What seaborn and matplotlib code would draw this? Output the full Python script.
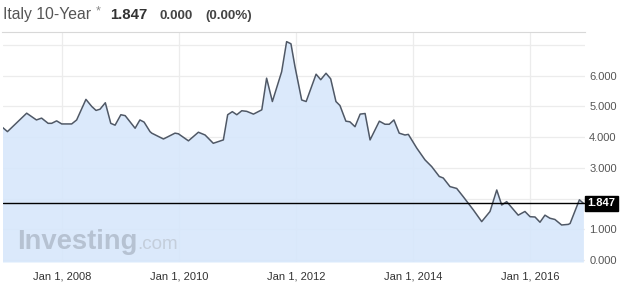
import matplotlib
matplotlib.use("Agg")
import matplotlib.pyplot as plt
import matplotlib.transforms as mtransforms
import seaborn as sns
import pandas as pd

# ---- data ----
dates = [
    "2006-12-20", "2007-01-25", "2007-05-25", "2007-07-25", "2007-08-26", "2007-10-06",
    "2007-10-28", "2007-11-28", "2007-12-30", "2008-03-01", "2008-04-01", "2008-05-29",
    "2008-07-04", "2008-07-31", "2008-08-25", "2008-09-27", "2008-10-31", "2008-11-27",
    "2009-01-02", "2009-01-29", "2009-04-01", "2009-05-01", "2009-05-27", "2009-07-03",
    "2009-07-14", "2009-09-25", "2009-12-06", "2009-12-27", "2010-02-28", "2010-05-01",
    "2010-06-12", "2010-08-02", "2010-10-04", "2010-10-31", "2010-11-29", "2010-12-27",
    "2011-01-27", "2011-02-27", "2011-04-10", "2011-06-01", "2011-07-01", "2011-08-06",
    "2011-10-03", "2011-11-03", "2011-11-30", "2011-12-25", "2012-02-05", "2012-03-04",
    "2012-05-05", "2012-06-03", "2012-07-06", "2012-08-04", "2012-09-06", "2012-10-01",
    "2012-11-07", "2012-12-02", "2013-01-03", "2013-02-04", "2013-03-07", "2013-04-07",
    "2013-06-04", "2013-07-09", "2013-08-05", "2013-09-03", "2013-10-06", "2013-11-11",
    "2013-12-02", "2014-01-24", "2014-03-16", "2014-04-27", "2014-06-13", "2014-07-08",
    "2014-08-19", "2014-09-30", "2014-11-10", "2015-01-12", "2015-03-05", "2015-04-26",
    "2015-06-07", "2015-07-08", "2015-08-08", "2015-10-19", "2015-11-30", "2016-01-01",
    "2016-02-01", "2016-03-03", "2016-04-03", "2016-05-04", "2016-06-04", "2016-07-16",
    "2016-08-27", "2016-09-07", "2016-11-04", "2016-11-29",
]
yields = [
    4.34, 4.18, 4.78, 4.56, 4.62, 4.45,
    4.45, 4.53, 4.43, 4.43, 4.56, 5.23,
    5.00, 4.87, 4.91, 5.12, 4.45, 4.39,
    4.73, 4.70, 4.29, 4.56, 4.49, 4.18,
    4.13, 3.94, 4.13, 4.11, 3.88, 4.16,
    4.07, 3.80, 3.91, 4.73, 4.83, 4.73,
    4.86, 4.84, 4.75, 4.89, 5.92, 5.16,
    6.13, 7.11, 7.04, 6.30, 5.21, 5.16,
    6.05, 5.87, 6.08, 5.90, 5.16, 5.03,
    4.52, 4.50, 4.34, 4.75, 4.77, 3.91,
    4.52, 4.42, 4.42, 4.56, 4.13, 4.07,
    4.09, 3.64, 3.26, 3.04, 2.72, 2.67,
    2.39, 2.33, 2.06, 1.63, 1.25, 1.58,
    2.28, 1.79, 1.90, 1.46, 1.58, 1.41,
    1.40, 1.23, 1.46, 1.36, 1.32, 1.14,
    1.16, 1.19, 1.96, 1.847,
]
last_value = 1.847
title_name = "Italy 10-Year"
title_price = "1.847"
title_change = "0.000"
title_pct = "(0.00%)"
y_ticks = [0, 1, 3, 4, 5, 6]          # 2.000 is hidden behind the last-value box
y_grid = [0, 1, 2, 3, 4, 5, 6, 7]
x_tick_years = [2008, 2010, 2012, 2014, 2016]

df = pd.DataFrame({"date": pd.to_datetime(dates), "yield": yields})

sns.set_style("white")
plt.rcParams["font.family"] = ["Liberation Sans", "DejaVu Sans"]

W, H = 628, 296
fig = plt.figure(figsize=(W / 100, H / 100), dpi=100)
left, right, top, bottom = 2.5, 585, 31.5, 262
ax = fig.add_axes([left / W, 1 - bottom / H, (right - left) / W, (bottom - top) / H])

ymin, ymax = -0.065, 7.44
ax.set_ylim(ymin, ymax)
ax.set_xlim(pd.Timestamp("2006-12-25"), pd.Timestamp("2016-12-09"))

# grid lines
for g in y_grid:
    ax.axhline(g, color="#ececec", lw=0.9, zorder=0)
for yr in x_tick_years:
    ax.axvline(pd.Timestamp(f"{yr}-01-01"), color="#ececec", lw=0.9, zorder=0)

ax.fill_between(df["date"], df["yield"], ymin, color="#d7e7fb", alpha=0.9, lw=0, zorder=1)
sns.lineplot(data=df, x="date", y="yield", ax=ax, color="#4f5866", lw=1.1, zorder=3)

ax.axhline(last_value, color="black", lw=1.0, zorder=4)

# axes styling
for s in ["left", "right", "bottom"]:
    ax.spines[s].set_visible(False)
ax.spines["top"].set_color("#d8d8d8")
ax.spines["top"].set_linewidth(0.8)

ax.set_xlabel("")
ax.set_ylabel("")
ax.set_xticks([pd.Timestamp(f"{yr}-01-01") for yr in x_tick_years])
ax.set_xticklabels([f"Jan 1, {yr}" for yr in x_tick_years])
ax.yaxis.tick_right()
ax.set_yticks(y_ticks)
ax.set_yticklabels([f"{v:.3f}" for v in y_ticks])
ax.tick_params(axis="x", length=0, pad=6.5, labelsize=8, labelcolor="#333333")
ax.tick_params(axis="y", length=0, pad=3, labelsize=8, labelcolor="#555555")

# last value label box
trans = mtransforms.blended_transform_factory(ax.transAxes, ax.transData)
ax.text(1.0 + 2.5 / (right - left), last_value, f"{last_value:.3f}", transform=trans,
        ha="left", va="center", color="white", fontsize=8, fontweight="bold",
        bbox=dict(boxstyle="square,pad=0.22", fc="black", ec="black"),
        clip_on=False, zorder=10)

# watermark
ax.text(17 / W, 1 - 249 / H, "Investing", transform=fig.transFigure, fontsize=19.7,
        fontweight="bold", color="#b6c2d2", ha="left", va="baseline", zorder=2)
ax.text(137 / W, 1 - 249 / H, ".com", transform=fig.transFigure, fontsize=13.6,
        color="#c4cedb", ha="left", va="baseline", zorder=2)

# header
ty = 1 - 19 / H
fig.text(3 / W, ty, title_name, fontsize=11.3, color="#555555", ha="left", va="baseline")
fig.text(96 / W, 1 - 14 / H, "*", fontsize=9, color="#888888", ha="left", va="baseline")
fig.text(110 / W, ty, title_price, fontsize=10.7, fontweight="bold", color="#333333",
         ha="left", va="baseline")
fig.text(159 / W, ty, title_change, fontsize=9.6, fontweight="bold", color="#444444",
         ha="left", va="baseline")
fig.text(205 / W, ty, title_pct, fontsize=9.6, fontweight="bold", color="#444444",
         ha="left", va="baseline")

fig.savefig("out.png", dpi=100, facecolor="white")
